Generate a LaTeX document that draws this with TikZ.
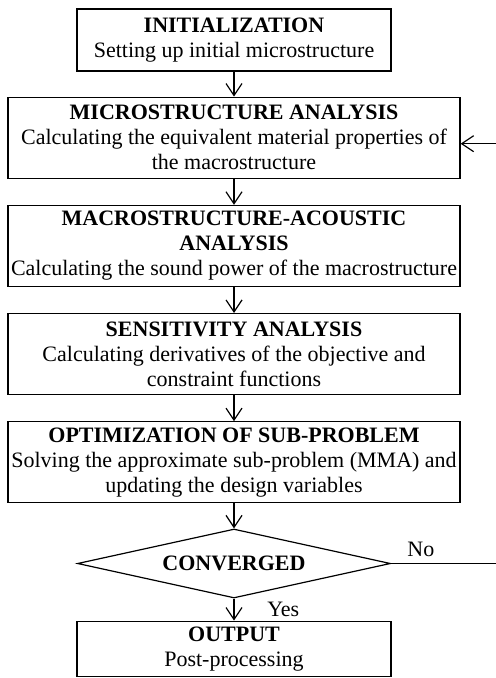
\documentclass[tikz,border=0pt]{standalone}
\usepackage{fontspec}
\setmainfont{Liberation Serif}
\usetikzlibrary{shapes,arrows,positioning,calc,arrows.meta}

\begin{document}
\begin{tikzpicture}[
        font=\fontsize{11}{12.5}\selectfont,
        box/.style={rectangle, draw=black, line width=0.6pt, minimum width=226pt, minimum height=40.5pt, inner xsep=1pt, inner ysep=2pt, align=center},
        smallbox/.style={box, minimum width=157pt, minimum height=31pt},
        decision/.style={diamond, draw=black, line width=0.6pt, aspect=4.5, minimum width=156.5pt, minimum height=34.5pt, inner sep=0pt, align=center},
        arrow/.style={-{Straight Barb[length=6pt,width=8pt]}, line width=0.6pt},
        note/.style={font=\fontsize{11}{12.5}\selectfont},
      ]
      \useasboundingbox (0,0) rectangle (248pt,-339pt);
      \node [smallbox] (init) at (117pt,-20pt) {\textbf{INITIALIZATION}\\Setting up initial microstructure};
      \node [box, below=12.5pt of init] (micro) {\textbf{MICROSTRUCTURE ANALYSIS}\\Calculating the equivalent material properties of\\the macrostructure};
      \node [box, below=13pt of micro] (macro) {\textbf{MACROSTRUCTURE-ACOUSTIC}\\\textbf{ANALYSIS}\\Calculating the sound power of the macrostructure};
      \node [box, below=13pt of macro] (sens) {\textbf{SENSITIVITY ANALYSIS}\\Calculating derivatives of the objective and\\constraint functions};
      \node [box, below=13pt of sens] (opt) {\textbf{OPTIMIZATION OF SUB-PROBLEM}\\Solving the approximate sub-problem (MMA) and\\updating the design variables};
      \node [decision, below=12.5pt of opt] (conv) {\textbf{CONVERGED}};
      \node [smallbox, minimum height=27.5pt, below=11pt of conv] (output) {\textbf{OUTPUT}\\Post-processing};
      \coordinate [right=55pt of conv.east] (loopa);
      \draw [arrow] (init) -- (micro);
      \draw [arrow] (micro) -- (macro);
      \draw [arrow] (macro) -- (sens);
      \draw [arrow] (sens) -- (opt);
      \draw [arrow] (opt) -- (conv);
      \draw [arrow] (conv) -- node [note, right=13pt] {Yes} (output);
      \draw [arrow] (conv.east) -- node [note, above, pos=0.27] {No} (loopa) |- ([yshift=-3pt]micro.east);
    \end{tikzpicture}
\end{document}
